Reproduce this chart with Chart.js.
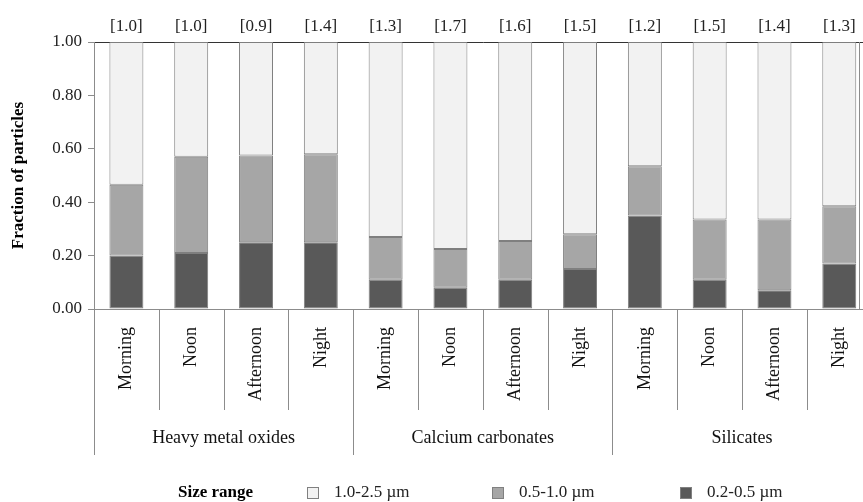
<!DOCTYPE html>
<html>
<head>
<meta charset="utf-8">
<script src="https://cdn.jsdelivr.net/npm/chart.js@4.4.1/dist/chart.umd.min.js"></script>
<style>
  html, body { margin: 0; padding: 0; background: #fff; overflow: hidden; }
  #wrap { width: 879px; height: 502px; }
</style>
</head>
<body>
<div id="wrap"><canvas id="chart" width="879" height="502"></canvas></div>
<script>
// sub categories (time of day) and their groups
const times = ['Morning', 'Noon', 'Afternoon', 'Night',
               'Morning', 'Noon', 'Afternoon', 'Night',
               'Morning', 'Noon', 'Afternoon', 'Night'];
const groups = ['Heavy metal oxides', 'Calcium carbonates', 'Silicates'];
const perGroup = 4;

// fractions per size range (stacked bottom to top)
const small = [0.20, 0.21, 0.25, 0.25, 0.11, 0.08, 0.11, 0.15, 0.35, 0.11, 0.07, 0.17];
const medium = [0.265, 0.36, 0.325, 0.33, 0.16, 0.145, 0.145, 0.13, 0.185, 0.225, 0.265, 0.215];
const large = [0.535, 0.43, 0.425, 0.42, 0.73, 0.775, 0.745, 0.72, 0.465, 0.665, 0.665, 0.615];

// bracketed numbers above the bars
const topNotes = ['1.0', '1.0', '0.9', '1.4', '1.3', '1.7', '1.6', '1.5', '1.2', '1.5', '1.4', '1.3'];

const serif = '"Liberation Serif", "Times New Roman", serif';
const lineGrey = '#8c8c8c';

const extras = {
  id: 'extras',
  afterDraw(chart) {
    const c = chart.ctx;
    const x = chart.scales.x;
    const area = chart.chartArea;
    const half = (x.getPixelForValue(1) - x.getPixelForValue(0)) / 2;
    c.save();

    // separators under the axis
    c.strokeStyle = lineGrey;
    c.lineWidth = 1;
    for (let i = 0; i <= times.length; i++) {
      const px = Math.round(i < times.length ? x.getPixelForValue(i) - half : x.getPixelForValue(i - 1) + half) + 0.5;
      const isGroup = i % perGroup === 0;
      c.beginPath();
      c.moveTo(px, area.bottom);
      c.lineTo(px, isGroup ? 455 : 410);
      c.stroke();
    }

    // right edge of the plot
    c.beginPath();
    c.moveTo(859.5, area.top);
    c.lineTo(859.5, area.bottom);
    c.stroke();

    // group labels
    c.fillStyle = '#111';
    c.font = '18px ' + serif;
    c.textAlign = 'center';
    c.textBaseline = 'middle';
    groups.forEach((g, gi) => {
      const a = x.getPixelForValue(gi * perGroup) - half;
      const b = x.getPixelForValue(gi * perGroup + perGroup - 1) + half;
      c.fillText(g, (a + b) / 2, 438);
    });

    // bracket notes above bars
    c.font = '17px ' + serif;
    c.fillStyle = '#222';
    topNotes.forEach((t, i) => {
      c.fillText('[' + t + ']', x.getPixelForValue(i), 27);
    });

    // legend
    const ly = 493;
    c.textAlign = 'left';
    c.fillStyle = '#000';
    c.font = 'bold 17px ' + serif;
    c.fillText('Size range', 178, ly);
    const order = [2, 1, 0];
    const boxX = [307, 492, 680];
    c.font = '17px ' + serif;
    order.forEach((di, k) => {
      const ds = chart.data.datasets[di];
      c.fillStyle = ds.backgroundColor;
      c.fillRect(boxX[k], ly - 6, 12, 12);
      c.strokeStyle = '#808080';
      c.strokeRect(boxX[k] + 0.5, ly - 5.5, 11, 11);
      c.fillStyle = '#222';
      c.fillText(ds.label, boxX[k] + 27, ly);
    });

    c.restore();
  }
};

new Chart(document.getElementById('chart'), {
  type: 'bar',
  data: {
    labels: times,
    datasets: [
      { label: '0.2-0.5 \u00b5m', data: small, backgroundColor: '#595959' },
      { label: '0.5-1.0 \u00b5m', data: medium, backgroundColor: '#a6a6a6' },
      { label: '1.0-2.5 \u00b5m', data: large, backgroundColor: '#f2f2f2' }
    ]
  },
  options: {
    responsive: false,
    animation: false,
    layout: { padding: { left: 0, right: 3, top: 42, bottom: 0 } },
    datasets: {
      bar: {
        categoryPercentage: 1,
        barPercentage: 0.524,
        borderWidth: 1,
        borderColor: '#7f7f7f',
        borderSkipped: false
      }
    },
    plugins: {
      legend: { display: false },
      tooltip: { enabled: false }
    },
    scales: {
      x: {
        stacked: true,
        grid: { display: false, drawTicks: false },
        border: { display: true, color: lineGrey },
        ticks: {
          autoSkip: false,
          minRotation: 90,
          maxRotation: 90,
          padding: 18,
          color: '#111',
          font: { family: serif, size: 18 }
        },
        afterFit(scale) { scale.height = 193; }
      },
      y: {
        stacked: true,
        min: 0,
        max: 1,
        ticks: {
          stepSize: 0.2,
          padding: 6,
          color: '#222',
          font: { family: serif, size: 17 },
          callback: v => v.toFixed(2)
        },
        grid: {
          drawOnChartArea: true,
          tickLength: 6,
          tickColor: lineGrey,
          color: ctx => (ctx.tick && ctx.tick.value === 1 ? '#333' : 'rgba(0,0,0,0)')
        },
        border: { display: true, color: lineGrey },
        title: {
          display: true,
          text: 'Fraction of particles',
          color: '#000',
          padding: { top: 8, bottom: 0 },
          font: { family: serif, size: 17, weight: 'bold' }
        },
        afterFit(scale) { scale.width = 94; }
      }
    }
  },
  plugins: [extras]
});
</script>
</body>
</html>
